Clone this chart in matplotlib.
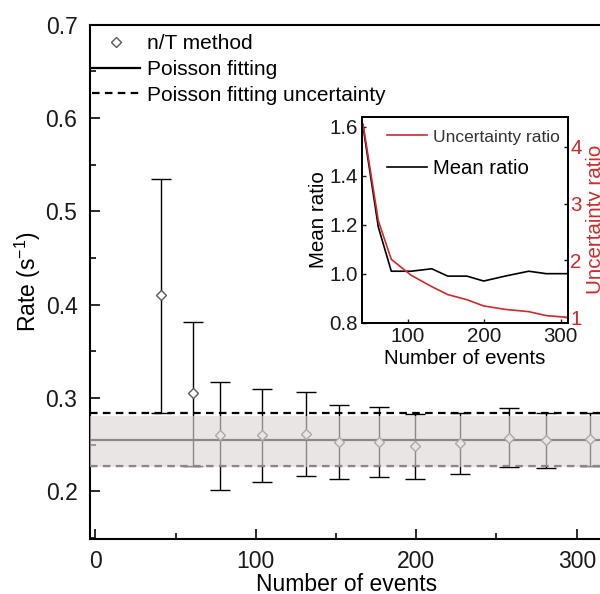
import matplotlib
matplotlib.use("Agg")
import matplotlib.pyplot as plt
from matplotlib.ticker import MultipleLocator
from matplotlib.lines import Line2D

plt.rcParams["font.family"] = ["Liberation Sans", "DejaVu Sans"]
plt.rcParams["mathtext.fontset"] = "custom"
plt.rcParams["mathtext.rm"] = "Liberation Sans"
plt.rcParams["mathtext.it"] = "Liberation Sans:italic"

# n/T method estimates
events = [41, 61, 78, 104, 131, 152, 177, 199, 227, 258, 281, 308]
rate = [0.410, 0.305, 0.260, 0.260, 0.262, 0.253, 0.253, 0.249, 0.252, 0.257, 0.255, 0.256]
rate_hi = [0.535, 0.381, 0.317, 0.310, 0.306, 0.293, 0.290, 0.283, 0.284, 0.289, 0.284, 0.284]
rate_lo = [0.284, 0.227, 0.202, 0.210, 0.217, 0.213, 0.215, 0.213, 0.219, 0.226, 0.225, 0.227]

# Poisson fitting
poisson_mean = 0.255
poisson_hi = 0.284
poisson_lo = 0.227
band_hi = 0.281
band_lo = 0.226

# inset ratios
mean_ratio = [1.60, 1.19, 1.01, 1.01, 1.02, 0.99, 0.99, 0.97, 0.99, 1.01, 1.00, 1.00]
unc_ratio = [4.40, 2.70, 2.02, 1.74, 1.54, 1.40, 1.31, 1.20, 1.14, 1.10, 1.03, 1.00]

red = "#d0292b"

fig = plt.figure(figsize=(6, 5.94), dpi=100)
ax = fig.add_axes([0.15, 0.0926, 0.8567, 0.8658])

yerr = [[r - l for r, l in zip(rate, rate_lo)], [h - r for r, h in zip(rate, rate_hi)]]
ax.errorbar(events, rate, yerr=yerr, fmt="none", ecolor="black", elinewidth=1.0,
            capsize=7.5, capthick=1.0, zorder=2)
ax.plot(events, rate, ls="none", marker="D", ms=5.2, mfc="white", mec="#5a5a5a",
        mew=1.0, zorder=3, label="n/T method")

ax.axhline(poisson_mean, color="black", lw=1.6, zorder=2, label="Poisson fitting")
ax.axhline(poisson_hi, color="black", lw=1.6, ls=(0, (3.4, 2.4)), zorder=2,
           label="Poisson fitting uncertainty")
ax.axhline(poisson_lo, color="black", lw=1.6, ls=(0, (3.4, 2.4)), zorder=2)
ax.axhspan(band_lo, band_hi, color=(0.873, 0.84, 0.84), alpha=0.63, lw=0, zorder=4)

ax.set_xlim(-3.3, 317)
ax.set_ylim(0.149, 0.7)
ax.xaxis.set_major_locator(MultipleLocator(100))
ax.xaxis.set_minor_locator(MultipleLocator(50))
ax.yaxis.set_major_locator(MultipleLocator(0.1))
ax.yaxis.set_minor_locator(MultipleLocator(0.05))
ax.tick_params(which="both", direction="in", width=1.3, labelsize=16.5, colors="#1a1a1a")
ax.tick_params(which="major", length=7.5, pad=8)
ax.tick_params(which="minor", length=4)
ax.tick_params(axis="y", pad=9)
for s in ax.spines.values():
    s.set_linewidth(1.5)
ax.set_xlabel("Number of events", fontsize=16.5, labelpad=0)
ax.set_ylabel(r"Rate (s$^{\mathregular{-1}}$)", fontsize=16.5, labelpad=2)

ax.legend(loc="upper left", bbox_to_anchor=(-0.006, 0.992), frameon=False, fontsize=15,
          handlelength=2.3, handletextpad=0.35, labelspacing=0.33,
          borderaxespad=0.1, borderpad=0.15)

# inset
ins = fig.add_axes([0.6038, 0.4567, 0.3423, 0.3468])
ins.plot(events, mean_ratio, color="black", lw=1.2, label="Mean ratio")
ins.set_xlim(40, 309)
ins.set_ylim(0.8, 1.64)
ins.set_xticks([100, 200, 300])
ins.set_yticks([0.8, 1.0, 1.2, 1.4, 1.6])
ins.set_yticklabels(["0.8", "1.0", "1.2", "1.4", "1.6"])
ins.tick_params(direction="in", length=3, width=1.0, labelsize=14.8, pad=3, colors="#1a1a1a")
ins.set_xlabel("Number of events", fontsize=14.8, labelpad=2)
ins.set_ylabel("Mean ratio", fontsize=14.8, labelpad=1)
for s in ins.spines.values():
    s.set_linewidth(1.3)

ins2 = ins.twinx()
ins2.plot(events, unc_ratio, color=red, lw=1.2, label="Uncertainty ratio")
ins2.set_ylim(0.905, 4.53)
ins2.set_yticks([1, 2, 3, 4])
ins2.tick_params(direction="in", length=3, width=1.0, labelsize=14.8, pad=2, labelcolor=red)
ins2.set_ylabel("Uncertainty ratio", fontsize=14.8, color=red, labelpad=3)
for s in ins2.spines.values():
    s.set_linewidth(1.3)

handles = [Line2D([], [], color=red, lw=1.2), Line2D([], [], color="black", lw=1.2)]
leg = ins.legend(handles, ["Uncertainty ratio", "Mean ratio"], loc="upper left",
                 bbox_to_anchor=(0.05, 1.015), frameon=False, fontsize=14.6,
                 handlelength=2.0, handletextpad=0.3, labelspacing=0.7, borderpad=0.2)
leg.get_texts()[0].set_fontsize(12.5)
leg.get_texts()[0].set_color("#333333")

fig.savefig("out.png", dpi=100)
